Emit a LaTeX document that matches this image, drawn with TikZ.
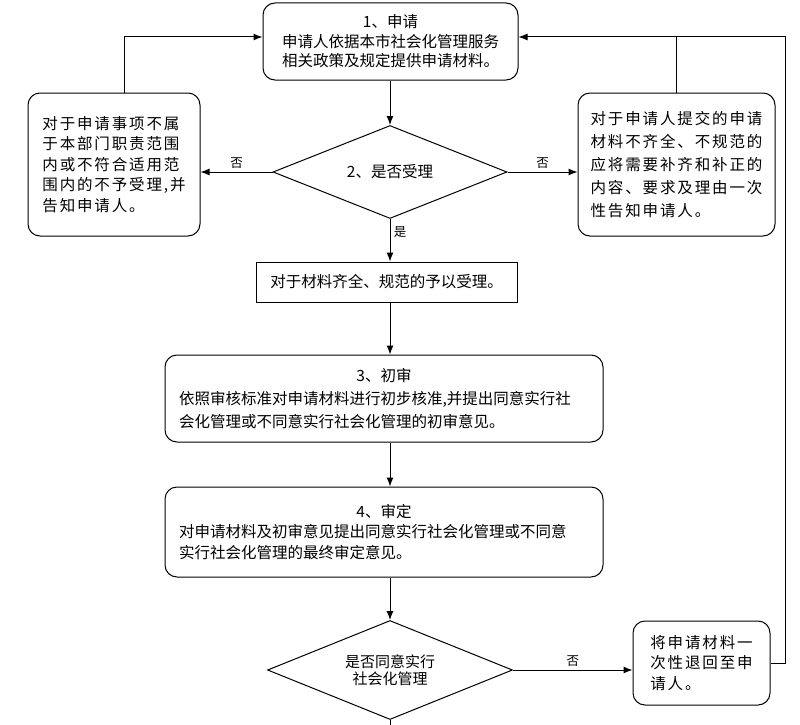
\documentclass[tikz,border=0pt]{standalone}
\usepackage{fontspec}
\setmainfont{Noto Sans CJK SC}
\newfontfamily\widefont[LetterSpace=12]{Noto Sans CJK SC}
\usetikzlibrary{shapes.geometric,arrows.meta}

\begin{document}
\begin{tikzpicture}[x=1pt,y=-1pt,>={Latex[length=9pt,width=7pt]},line width=1pt,
  font=\fontsize{15.5}{21}\selectfont]
\useasboundingbox (0,0) rectangle (800,725);

\tikzset{
  roundbox/.style={draw,rounded corners=12pt,inner sep=4pt},
  plainbox/.style={draw,inner sep=4pt},
  decision/.style={draw,diamond,inner sep=0pt,aspect=2.5,align=center},
  nolabel/.style={font=\fontsize{12.5}{12.5}\selectfont},
}

% steps
\node[roundbox,minimum width=255pt,minimum height=77pt,align=center,
  font=\fontsize{15.5}{19.5}\selectfont] (apply) at (390.5,41.5)
  {1、申请\\申请人依据本市社会化管理服务\\相关政策及规定提供申请材料。};
\node[decision,minimum width=234pt,minimum height=93pt] (accept) at (390,172) {2、是否受理};
\node[roundbox,minimum width=172pt,minimum height=143pt,align=left,
  font=\widefont\fontsize{15.5}{20.5}\selectfont] (reject) at (114,164.5)
  {对于申请事项不属\\于本部门职责范围\\内或不符合适用范\\围内的不予受理,并\\告知申请人。};
\node[roundbox,minimum width=197pt,minimum height=143pt,align=left,
  font=\widefont\fontsize{15.5}{23}\selectfont] (incomplete) at (676.5,164.5)
  {对于申请人提交的申请\\材料不齐全、不规范的\\应将需要补齐和补正的\\内容、要求及理由一次\\性告知申请人。};
\node[plainbox,minimum width=261pt,minimum height=40pt] (take) at (386.5,282) {对于材料齐全、规范的予以受理。};
\node[roundbox,minimum width=438pt,minimum height=87pt,text width=410pt,align=left,
  font=\fontsize{15.5}{23}\selectfont] (review) at (384,398.5)
  {\makebox[410pt]{3、初审}\\依照审核标准对申请材料进行初步核准,并提出同意实行社\\会化管理或不同意实行社会化管理的初审意见。};
\node[roundbox,minimum width=438pt,minimum height=90pt,text width=410pt,align=left,
  font=\fontsize{15.5}{20.5}\selectfont] (decide) at (384,532)
  {\makebox[410pt]{4、审定}\\对申请材料及初审意见提出同意实行社会化管理或不同意\\实行社会化管理的最终审定意见。};
\node[decision,minimum width=245pt,minimum height=99pt,
  font=\fontsize{15}{17.5}\selectfont] (agree) at (390,670) {是否同意实行\\社会化管理};
\node[roundbox,minimum width=137pt,minimum height=84pt,align=left,
  font=\widefont\fontsize{15.5}{20.5}\selectfont] (back) at (701.5,663)
  {将申请材料一\\次性退回至申\\请人。};

\coordinate (spine) at (390,0);
\coordinate (topline) at (0,37);
\coordinate (loopR) at (785,37);
\coordinate (down) at (390,725);

% main line
\foreach \a/\b in {apply/accept,take/review,review/decide,decide/agree}{
\draw[->] (\a.south -| spine) -- (\b.north -| spine);
}
\draw[->] (accept.south) -- (take.north -| spine) node[pos=0.3,right,nolabel] {是};
\draw (agree.south) -- (down);

% no branches
\draw[->] (accept.west) -- (reject.east |- accept.west) node[midway,above,nolabel] {否};
\draw[->] (accept.east) -- (incomplete.west |- accept.east) node[midway,above,nolabel] {否};
\draw[->] (agree.east) -- (back.west |- agree.east) node[midway,above,nolabel] {否};

% back to step 1
\draw[->] ([xshift=10pt]reject.north) |- (apply.west |- topline);
\draw (incomplete.north) -- (incomplete.north |- topline);
\draw[->] (back.east) -| (loopR) -- (apply.east |- loopR);

\end{tikzpicture}
\end{document}
